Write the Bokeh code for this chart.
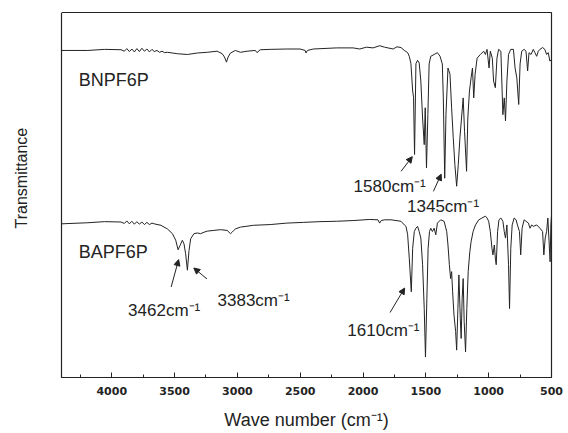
import math
from bokeh.plotting import figure
from bokeh.models import Range1d, Arrow, NormalHead, Title, ColumnDataSource, FixedTicker
from bokeh.core.properties import value
from bokeh.embed import file_html
from bokeh.resources import INLINE

# ---- data (wavenumber cm-1, transmittance a.u.) ----
bnpf6p_wn = [4401, 4190, 4058, 3926, 3900, 3880, 3860, 3840, 3820, 3800, 3780, 3760, 3740, 3720,
             3700, 3680, 3662, 3640, 3620, 3600, 3580, 3557, 3477, 3398, 3319, 3240, 3161, 3121,
             3103, 3087, 3074, 3055, 3016, 2976, 2923, 2857, 2844, 2818, 2739, 2607, 2501, 2461,
             2454, 2443, 2396, 2211, 2079, 2026, 1973, 1920, 1868, 1829, 1760, 1730, 1698, 1671,
             1645, 1632, 1619, 1605, 1598, 1590, 1579, 1566, 1553, 1540, 1526, 1513, 1505, 1495,
             1484, 1474, 1461, 1434, 1408, 1387, 1369, 1361, 1350, 1340, 1324, 1308, 1295, 1282,
             1269, 1255, 1242, 1229, 1216, 1203, 1192, 1176, 1166, 1153, 1140, 1129, 1119, 1108,
             1092, 1066, 1040, 1026, 1013, 997, 987, 971, 961, 947, 934, 921, 903, 887, 876, 866,
             855, 842, 824, 803, 790, 776, 761, 750, 737, 718, 703, 690, 679, 663, 645, 632, 618,
             605, 592, 571, 553, 539, 526, 513, 500]
bnpf6p_t = [89.6, 89.6, 89.9, 89.8, 89.4, 90.1, 89.3, 90.0, 89.2, 90.1, 89.3, 90.2, 89.4, 90.0,
            89.2, 89.9, 89.3, 89.6, 89.1, 89.4, 89.0, 89.1, 88.7, 88.5, 88.9, 89.1, 89.4, 88.7,
            87.8, 86.4, 87.8, 88.9, 89.6, 89.1, 89.4, 89.6, 89.0, 89.8, 89.9, 90.0, 90.0, 89.6,
            88.9, 89.6, 90.0, 90.3, 90.3, 90.0, 90.5, 90.3, 90.9, 90.5, 90.0, 90.6, 90.4, 89.6,
            89.0, 88.0, 86.0, 78.5, 76.8, 61.1, 86.0, 86.9, 86.2, 81.2, 71.1, 63.8, 73.9, 57.4,
            72.0, 85.9, 88.0, 88.5, 89.0, 88.0, 85.9, 76.6, 54.6, 72.0, 84.8, 83.1, 73.9, 65.7,
            58.3, 52.4, 58.3, 65.7, 71.1, 76.6, 67.4, 56.5, 71.1, 78.5, 82.1, 84.8, 76.6, 83.1,
            87.5, 88.5, 89.4, 88.5, 89.9, 84.8, 89.4, 87.5, 81.2, 79.4, 87.5, 89.9, 89.4, 72.0,
            76.6, 70.3, 81.2, 88.5, 89.9, 89.9, 84.8, 82.1, 74.8, 85.9, 89.4, 89.9, 89.4, 84.0,
            89.0, 88.5, 89.9, 89.0, 88.0, 89.4, 89.9, 90.4, 89.9, 88.5, 89.0, 86.7, 87.1]

bapf6p_wn = [4401, 4190, 4058, 3926, 3900, 3880, 3860, 3840, 3820, 3800, 3780, 3760, 3740, 3720,
             3700, 3680, 3662, 3609, 3557, 3517, 3491, 3472, 3456, 3438, 3425, 3412, 3398, 3385,
             3372, 3346, 3319, 3293, 3266, 3240, 3187, 3134, 3082, 3055, 3042, 3029, 3016, 2976,
             2871, 2739, 2607, 2475, 2343, 2211, 2079, 1947, 1881, 1868, 1855, 1829, 1777, 1698,
             1671, 1658, 1645, 1632, 1624, 1616, 1605, 1592, 1579, 1566, 1553, 1540, 1526, 1513,
             1503, 1492, 1482, 1471, 1461, 1448, 1434, 1421, 1408, 1382, 1355, 1334, 1324, 1313,
             1303, 1295, 1287, 1276, 1263, 1255, 1245, 1237, 1226, 1219, 1211, 1203, 1195, 1184,
             1174, 1163, 1150, 1140, 1124, 1105, 1079, 1053, 1026, 1013, 1000, 987, 974, 966, 955,
             947, 940, 929, 918, 903, 887, 876, 866, 855, 842, 834, 824, 813, 797, 782, 771, 755,
             745, 734, 718, 703, 684, 671, 658, 645, 618, 592, 571, 561, 550, 539, 529, 518, 511,
             505, 500]
bapf6p_t = [42.1, 42.4, 42.7, 42.6, 42.2, 42.9, 42.1, 42.8, 42.0, 42.7, 42.0, 42.6, 41.9, 42.5,
            41.9, 42.3, 42.1, 41.7, 40.7, 39.4, 37.6, 35.0, 36.2, 37.6, 36.6, 33.9, 29.4, 34.8,
            38.0, 39.4, 39.6, 39.4, 39.8, 40.1, 40.3, 40.5, 40.3, 39.4, 39.8, 40.3, 40.7, 41.2,
            41.7, 41.9, 42.3, 42.5, 42.7, 42.8, 43.0, 43.3, 43.2, 42.3, 43.0, 43.2, 43.2, 42.8,
            41.8, 41.4, 39.1, 32.7, 28.1, 23.5, 35.4, 40.0, 40.9, 41.4, 40.0, 38.2, 30.9, 18.9,
            5.6, 21.7, 35.4, 40.0, 40.9, 40.0, 40.9, 39.1, 42.3, 43.2, 42.8, 40.0, 36.3, 30.9,
            27.1, 29.0, 23.5, 17.1, 12.6, 7.5, 18.9, 28.1, 16.2, 10.7, 21.7, 27.1, 15.3, 7.0,
            18.9, 29.0, 34.5, 37.2, 40.0, 41.8, 43.2, 43.7, 44.2, 43.7, 42.8, 40.0, 35.4, 33.6, 36.3,
            32.7, 30.9, 40.0, 43.2, 43.7, 42.8, 40.0, 38.2, 41.8, 30.9, 18.9, 35.4, 41.8, 43.7, 43.2,
            41.8, 40.0, 33.6, 40.9, 43.2, 42.8, 42.3, 40.9, 41.8, 41.4, 41.8, 40.9, 40.0, 33.6,
            38.2, 40.0, 43.7, 36.3, 31.7, 41.8, 44.5]

major_ticks = [4000, 3500, 3000, 2500, 2000, 1500, 1000, 500]
minor_ticks = [4250, 3750, 3250, 2750, 2250, 1750, 1250, 750]

sample_names = ["BNPF6P", "BAPF6P"]
sample_x = [4262, 4262]
sample_y = [81.4, 34.3]

peak_labels = ["1580cm\u207b\u00b9", "1345cm\u207b\u00b9", "3462cm\u207b\u00b9", "3383cm\u207b\u00b9", "1610cm\u207b\u00b9"]
peak_label_x = [2075, 1650, 3870, 3158, 2125]
peak_label_y = [52.3, 46.8, 18.4, 21.1, 13.0]

arrow_x0 = [1697, 1440, 3527, 3242, 1785]
arrow_y0 = [56.5, 51.0, 24.8, 27.0, 17.8]
arrow_x1 = [1608, 1378, 3468, 3347, 1669]
arrow_y1 = [60.5, 55.7, 32.3, 30.0, 24.5]

INK = "#232323"
FONT = "Liberation Sans"

p = figure(width=568, height=433, x_range=Range1d(4400, 500), y_range=Range1d(0, 100),
           output_backend="svg", toolbar_location=None,
           min_border_left=61, min_border_right=17, min_border_top=12, min_border_bottom=56)
p.background_fill_color = "white"
p.border_fill_color = "white"
p.grid.visible = False
p.outline_line_color = INK
p.outline_line_width = 1.2
p.outline_line_alpha = 1

# y axis: one invisible tick at the top edge whose outward length keeps the title away from the frame
ya = p.yaxis[0]
ya.ticker = FixedTicker(ticks=[100])
ya.major_label_overrides = {100: ""}
ya.axis_line_color = None
ya.major_tick_line_color = "white"
ya.minor_tick_line_color = None
ya.major_tick_out = 27
ya.major_tick_in = 0
ya.minor_tick_out = 0
ya.major_label_standoff = 0

xa = p.xaxis[0]
xa.ticker = FixedTicker(ticks=major_ticks, minor_ticks=minor_ticks)
xa.major_tick_in = 5
xa.major_tick_out = 0
xa.minor_tick_in = 3
xa.minor_tick_out = 0
xa.axis_line_color = INK
xa.major_tick_line_color = INK
xa.minor_tick_line_color = INK
xa.major_label_text_font = "DejaVu Sans"
xa.major_label_text_font_size = "11px"
xa.major_label_text_font_style = "bold"
xa.major_label_text_color = INK
xa.major_label_standoff = 9
xa.axis_label = "Wave number (cm\u207b\u00b9)"
xa.axis_label_text_font = FONT
xa.axis_label_text_font_size = "18px"
xa.axis_label_text_font_style = "normal"
xa.axis_label_text_color = INK
xa.axis_label_standoff = 12

p.line(bnpf6p_wn, bnpf6p_t, line_color=INK, line_width=1)
p.line(bapf6p_wn, bapf6p_t, line_color=INK, line_width=1)

p.text(x=sample_x, y=sample_y, text=sample_names, text_font=value(FONT), text_font_size="18px",
       text_color=INK, text_align="left", text_baseline="alphabetic")
p.text(x=peak_label_x, y=peak_label_y, text=peak_labels, text_font=value(FONT), text_font_size="17px",
       text_color=INK, text_align="left", text_baseline="alphabetic")

asrc = ColumnDataSource(dict(x0=arrow_x0, y0=arrow_y0, x1=arrow_x1, y1=arrow_y1))
p.add_layout(Arrow(end=NormalHead(size=6, fill_color=INK, line_color=INK, line_width=1),
                   x_start="x0", y_start="y0", x_end="x1", y_end="y1",
                   line_color=INK, line_width=1, source=asrc))

p.add_layout(Title(text="Transmittance", align="left", offset=149,
                   text_font=FONT, text_font_size="16px", text_font_style="normal",
                   text_color=INK), "left")

open("out.html", "w").write(file_html(p, INLINE))
